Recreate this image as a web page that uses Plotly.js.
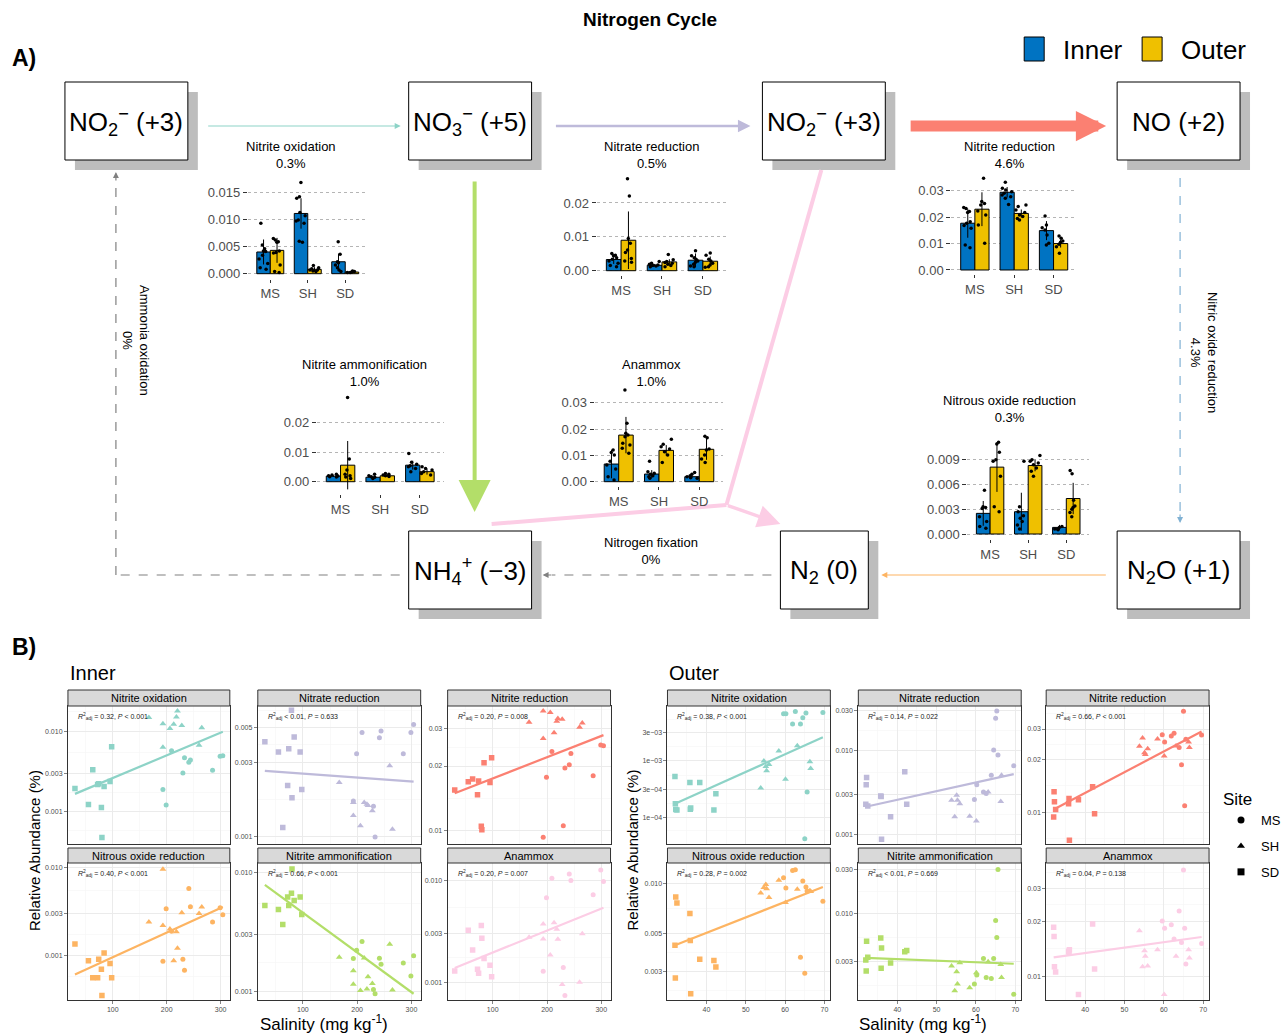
<!DOCTYPE html>
<html><head><meta charset="utf-8">
<script src="https://cdn.plot.ly/plotly-3.0.1.min.js"></script>
<style>body{margin:0;background:#fff}#chart{width:1286px;height:1034px}</style>
</head><body><div id="chart"></div>
<script>
// ---------------- DATA ----------------
const sites = ["MS", "SH", "SD"];

// Panel A bar charts (relative abundance, %)
const nitOxInMean = [0.0040, 0.0111, 0.0022];
const nitOxOutMean = [0.0043, 0.0008, 0.0003];
const nitOxInSD = [0.0023, 0.0028, 0.0015];
const nitOxOutSD = [0.0023, 0.0004, 0.0001];
const nitOxInPts = [[0.0093,0.0053,0.0046,0.0042,0.0041,0.0034,0.0027,0.0019,0.0011,0.0008],[0.0168,0.0142,0.0139,0.0113,0.0107,0.0099,0.0097,0.0093,0.0060,0.0058],[0.0059,0.0036,0.0022,0.0020,0.0016,0.0011,0.0007,0.0004]];
const nitOxOutPts = [[0.0065,0.0062,0.0059,0.0058,0.0042,0.0039,0.0038,0.0016,0.0004,0.0002],[0.0015,0.0011,0.0009,0.0007,0.0007,0.0005,0.0004],[0.0005,0.0004,0.0003,0.0002,0.0002]];

const nitRedInMean = [0.0033, 0.0016, 0.0031];
const nitRedOutMean = [0.0090, 0.0026, 0.0028];
const nitRedInSD = [0.0013, 0.0004, 0.0020];
const nitRedOutSD = [0.0085, 0.0008, 0.0014];
const nitRedInPts = [[0.0051,0.0046,0.0044,0.0038,0.0034,0.0029,0.0022,0.0015,0.0012],[0.0027,0.0022,0.0019,0.0017,0.0015,0.0014,0.0012],[0.0059,0.0044,0.0038,0.0034,0.0029,0.0025,0.0019,0.0014,0.0012]];
const nitRedOutPts = [[0.0272,0.0221,0.0095,0.0081,0.0061,0.0054,0.0036,0.0029,0.0025],[0.0048,0.0032,0.0027,0.0024,0.0022,0.0019,0.0015,0.0012],[0.0052,0.0046,0.0034,0.0029,0.0022,0.0017,0.0012,0.0010]];

const niRedInMean = [0.0177, 0.0294, 0.0149];
const niRedOutMean = [0.0230, 0.0214, 0.0100];
const niRedInSD = [0.0055, 0.0020, 0.0036];
const niRedOutSD = [0.0064, 0.0015, 0.0015];
const niRedInPts = [[0.0236,0.0233,0.0221,0.0218,0.0183,0.0177,0.0168,0.0158,0.0095,0.0084],[0.0332,0.0309,0.0303,0.0296,0.0290,0.0284,0.0277,0.0271,0.0248],[0.0204,0.0170,0.0160,0.0151,0.0132,0.0101,0.0095]];
const niRedOutPts = [[0.0347,0.0259,0.0252,0.0246,0.0223,0.0208,0.0170,0.0101],[0.0246,0.0240,0.0227,0.0218,0.0208,0.0202,0.0195,0.0189],[0.0129,0.0120,0.0110,0.0105,0.0097,0.0088,0.0063]];

const nitAmmInMean = [0.0019, 0.0015, 0.0056];
const nitAmmOutMean = [0.0056, 0.0020, 0.0034];
const nitAmmInSD = [0.0003, 0.0003, 0.0015];
const nitAmmOutSD = [0.0082, 0.0003, 0.0010];
const nitAmmInPts = [[0.0025,0.0023,0.0020,0.0019,0.0017,0.0016],[0.0025,0.0020,0.0017,0.0015,0.0011],[0.0096,0.0066,0.0059,0.0054,0.0051,0.0045,0.0034]];
const nitAmmOutPts = [[0.0285,0.0077,0.0040,0.0025,0.0020,0.0016,0.0011],[0.0028,0.0025,0.0023,0.0020,0.0018],[0.0051,0.0045,0.0040,0.0034,0.0028,0.0023]];

const anaInMean = [0.0067, 0.0029, 0.0019];
const anaOutMean = [0.0177, 0.0119, 0.0123];
const anaInSD = [0.0054, 0.0015, 0.0006];
const anaOutSD = [0.0069, 0.0020, 0.0040];
const anaInPts = [[0.0120,0.0111,0.0101,0.0078,0.0063,0.0048,0.0019,0.0006],[0.0078,0.0038,0.0032,0.0028,0.0023,0.0019,0.0013],[0.0035,0.0028,0.0023,0.0019,0.0015,0.0013]];
const anaOutPts = [[0.0348,0.0222,0.0184,0.0177,0.0171,0.0146,0.0139,0.0127,0.0108],[0.0161,0.0142,0.0133,0.0124,0.0114,0.0101,0.0073],[0.0173,0.0167,0.0124,0.0120,0.0101,0.0086,0.0073]];

const n2oInMean = [0.0025, 0.0027, 0.0008];
const n2oOutMean = [0.0081, 0.0083, 0.0043];
const n2oInSD = [0.0015, 0.0023, 0.0003];
const n2oOutSD = [0.0030, 0.0007, 0.0019];
const n2oInPts = [[0.0053,0.0033,0.0032,0.0031,0.0021,0.0015,0.0009,0.0007],[0.0088,0.0033,0.0027,0.0022,0.0019,0.0015,0.0011,0.0006],[0.0009,0.0008,0.0006,0.0006,0.0005]];
const n2oOutPts = [[0.0111,0.0109,0.0099,0.0090,0.0088,0.0070,0.0033,0.0027],[0.0095,0.0090,0.0088,0.0086,0.0084,0.0080,0.0076,0.0070],[0.0077,0.0073,0.0041,0.0034,0.0032,0.0030,0.0026,0.0021]];

// Panel B: salinity per site
const salInSD = [30, 55, 63, 72, 74, 79, 80, 84, 95, 98];
const salInSH = [167, 193, 193, 206, 213, 218, 220, 228, 260, 265];
const salInMS = [193, 199, 209, 230, 233, 241, 244, 285, 299, 304];
const salOutSD = [32.0, 32.1, 32.2, 32.5, 35.8, 35.9, 36.0, 38.3, 41.9, 42.4];
const salOutSH = [53.8, 54.6, 55.1, 55.3, 55.9, 58.4, 60.1, 63.1, 66.3, 66.5];
const salOutMS = [59.6, 60.2, 61.9, 62.6, 63.9, 64.5, 65.0, 65.3, 65.6, 69.6];

// Inner relative abundance
const inNitOxSD = [0.00194,0.00122,0.00335,0.00218,0.00222,0.00112,0.00047,0.00205,0.00237,0.0065];
const inNitOxSH = [0.0152,0.0126,0.0064,0.0110,0.0125,0.0154,0.0183,0.0120,0.0068,0.0113];
const inNitOxMS = [0.00188,0.00120,0.00579,0.00304,0.00473,0.00414,0.00442,0.00329,0.00492,0.0050];
const inNitOxFit = [0.00166, 0.0100];
const inNitRedSD = [0.00405,0.00349,0.00114,0.00212,0.00366,0.00646,0.00177,0.00435,0.00349,0.00200];
const inNitRedSH = [0.00222,0.00136,0.00165,0.00117,0.00165,0.00161,0.00158,0.00146,0.00284,0.00111];
const inNitRedMS = [0.00169,0.00340,0.00465,0.00156,0.00099,0.00430,0.00476,0.00340,0.00465,0.00523];
const inNitRedFit = [0.00264, 0.00225];
const inNiRedSD = [0.01545,0.01686,0.01741,0.01466,0.01703,0.01044,0.01007,0.02074,0.01674,0.02188];
const inNiRedSH = [0.0321,0.0269,0.0362,0.0356,0.0286,0.0324,0.0334,0.0331,0.0304,0.0318];
const inNiRedMS = [0.00927,0.0177,0.0234,0.0105,0.0196,0.0203,0.0229,0.0180,0.0251,0.0249];
const inNiRedFit = [0.0149, 0.0279];
const inN2oSD = [0.00135,0.00087,0.00056,0.00056,0.00091,0.00070,0.00035,0.00107,0.00081,0.00056];
const inN2oSH = [0.00240,0.00219,0.00958,0.00200,0.00087,0.00187,0.00121,0.00307,0.00300,0.00356];
const inN2oMS = [0.00086,0.00340,0.00189,0.00091,0.00068,0.00578,0.00359,0.00240,0.00349,0.00291];
const inN2oFit = [0.00061, 0.00356];
const inNitAmmSD = [0.00526,0.00487,0.00364,0.00618,0.00526,0.00667,0.01066,0.00579,0.00618,0.00441];
const inNitAmmSH = [0.00193,0.00148,0.00114,0.00101,0.00190,0.00104,0.00132,0.00116,0.00248,0.00102];
const inNitAmmMS = [0.00188,0.00221,0.00262,0.00103,0.00095,0.00189,0.00168,0.00172,0.00134,0.00198];
const inNitAmmFit = [0.00783, 0.00095];
const inAnaSD = [0.00129,0.00324,0.00207,0.00134,0.00122,0.00362,0.00270,0.00171,0.00147,0.00113];
const inAnaSH = [0.00276,0.00373,0.00266,0.00185,0.00385,0.00331,0.00264,0.00095,0.00100,0.00300];
const inAnaMS = [0.00128,0.00676,0.01055,0.00139,0.00074,0.0116,0.0100,0.00723,0.0127,0.0098];
const inAnaFit = [0.00138, 0.00540];
const inFitX = [30, 304];

// Outer relative abundance
const outNitOxSD = [5.15e-4,1.72e-4,1.36e-4,1.33e-4,4.04e-4,1.38e-4,1.44e-4,4.04e-4,1.33e-4,2.58e-4];
const outNitOxSH = [3.25e-4,9.6e-4,7.7e-4,6.5e-4,8.4e-4,1.44e-3,4.62e-4,1.79e-3,9.3e-4,7.1e-4];
const outNitOxMS = [6.5e-3,6.5e-3,4.3e-3,7.1e-3,4.3e-3,5.5e-3,4.2e-5,6.7e-3,2.76e-4,6.8e-3];
const outNitOxFit = [1.72e-4, 2.51e-3];
const outNitRedSD = [2.31e-3,3.93e-3,4.8e-3,2.2e-3,2.9e-3,2.85e-3,8.9e-4,1.64e-3,5.6e-3,2.31e-3];
const outNitRedSH = [2.57e-3,1.64e-3,2.95e-3,2.57e-3,2.35e-3,1.67e-3,1.46e-3,3.24e-3,2.49e-3,5.1e-3];
const outNitRedMS = [2.63e-3,3.93e-3,3.24e-3,3.1e-3,5.1e-3,1.02e-2,2.43e-2,2.95e-2,8.9e-3,6.6e-3];
const outNitRedFit = [2.16e-3, 5.26e-3];
const outNiRedSD = [9.4e-3,1.31e-2,1.148e-2,1.037e-2,1.12e-2,1.2e-2,6.9e-3,1.18e-2,1.40e-2,9.8e-3];
const outNiRedSH = [2.39e-2,2.66e-2,2.19e-2,2.14e-2,2.31e-2,2.63e-2,2.1e-2,2.40e-2,2.53e-2,2.35e-2];
const outNiRedMS = [2.78e-2,2.53e-2,2.74e-2,2.84e-2,2.35e-2,1.87e-2,3.79e-2,1.09e-2,2.62e-2,2.77e-2];
const outNiRedFit = [1.037e-2, 2.9e-2];
const outN2oSD = [4.28e-3,2.74e-3,8.28e-3,7.63e-3,6.61e-3,4.57e-3,2.21e-3,3.54e-3,3.48e-3,3.18e-3];
const outN2oSH = [8.74e-3,9.4e-3,9.8e-3,9.27e-3,8.2e-3,1.04e-2,7.67e-3,9.18e-3,9.0e-3,8.9e-3];
const outN2oMS = [1.075e-2,9.35e-3,1.186e-2,1.2e-2,3.63e-3,1.03e-2,2.92e-3,9.47e-3,8.98e-3,7.8e-3];
const outN2oFit = [4.28e-3, 9.47e-3];
const outNitAmmSD = [3.1e-3,2.36e-3,4.96e-3,3.33e-3,5.38e-3,2.52e-3,4.21e-3,2.88e-3,3.81e-3,3.94e-3];
const outNitAmmSH = [2.67e-3,1.44e-3,2.32e-3,1.70e-3,2.9e-3,1.55e-3,2.26e-3,2.97e-3,2.78e-3,2.0e-3];
const outNitAmmMS = [1.70e-3,2.14e-3,3.23e-3,2.0e-3,1.95e-3,3.23e-3,8.34e-3,5.47e-3,3.0e-2,1.32e-3];
const outNitAmmFit = [3.28e-3, 2.83e-3];
const outAnaSD = [1.85e-2,1.65e-2,1.13e-2,1.06e-2,1.37e-2,1.35e-2,1.40e-2,8.0e-3,1.93e-2,1.10e-2];
const outAnaSH = [1.77e-2,1.13e-2,1.38e-2,1.29e-2,1.14e-2,1.4e-2,8.0e-3,1.29e-2,1.40e-2,1.26e-2];
const outAnaMS = [2.0e-2,1.83e-2,1.91e-2,1.6e-2,2.27e-2,1.53e-2,3.79e-2,1.83e-2,1.17e-2,1.51e-2];
const outAnaFit = [1.27e-2, 1.64e-2];
const outFitX = [32, 69.6];

// tick labels
const tk0103 = [0.001, 0.003, 0.010], tl0103 = ["0.001", "0.003", "0.010"];
const tk0105 = [0.001, 0.003, 0.005], tl0105 = ["0.001", "0.003", "0.005"];
const tk123 = [0.01, 0.02, 0.03], tl123 = ["0.01", "0.02", "0.03"];
const tkE = [1e-4, 3e-4, 1e-3, 3e-3], tlE = ["1e\u221204", "3e\u221204", "1e\u221203", "3e\u221203"];
const tk0130 = [0.001, 0.003, 0.010, 0.030], tl0130 = ["0.001", "0.003", "0.010", "0.030"];
const tk3510 = [0.003, 0.005, 0.010], tl3510 = ["0.003", "0.005", "0.010"];
const tk3030 = [0.003, 0.010, 0.030], tl3030 = ["0.003", "0.010", "0.030"];
const innerXTicks = [100, 200, 300], outerXTicks = [40, 50, 60, 70];

// ---------------- LAYOUT HELPERS ----------------
const W = 1286, H = 1034;
const X = p => p / W, Y = p => 1 - p / H;
const FONT = "Liberation Sans, Arial, Helvetica, sans-serif";
const BLUE = "#0073C2", YEL = "#EFC000";
const traces = [], shapes = [], ann = [];
const layout = {
  width: W, height: H, margin: {l: 0, r: 0, t: 0, b: 0, pad: 0},
  paper_bgcolor: "#ffffff", plot_bgcolor: "rgba(0,0,0,0)",
  font: {family: FONT, color: "#000"},
  barmode: "group", bargap: 0.28, bargroupgap: 0,
  boxmode: "group", boxgap: 0.28, boxgroupgap: 0,
  showlegend: true, hovermode: false
};
let axN = 0;
function newAxes() { axN++; const s = axN === 1 ? "" : String(axN); return {xa: "x" + s, ya: "y" + s, xk: "xaxis" + s, yk: "yaxis" + s}; }
function txt(x, y, text, size, opts) { ann.push(Object.assign({xref: "paper", yref: "paper", x: X(x), y: Y(y), text: text, showarrow: false, font: {size: size, family: FONT, color: "#000"}, xanchor: "center", yanchor: "middle"}, opts || {})); }
function rect(x0, y0, x1, y1, fill, line, lw, layer) { shapes.push({type: "rect", xref: "paper", yref: "paper", x0: X(x0), x1: X(x1), y0: Y(y1), y1: Y(y0), fillcolor: fill, line: {color: line, width: lw}, layer: layer || "above"}); }
function seg(x0, y0, x1, y1, color, w, dash) { shapes.push({type: "line", xref: "paper", yref: "paper", x0: X(x0), x1: X(x1), y0: Y(y0), y1: Y(y1), line: {color: color, width: w, dash: dash || "solid"}, layer: "below"}); }
function arrow(tx, ty, fx, fy, color, w, size, head) { ann.push({xref: "paper", yref: "paper", x: X(tx), y: Y(ty), ax: fx - tx, ay: fy - ty, text: "", showarrow: true, arrowcolor: color, arrowwidth: w, arrowsize: size, arrowhead: head === undefined ? 2 : head, standoff: 0, startstandoff: 0}); }

// ---------------- PANEL A: diagram ----------------
txt(651, 20, "<b>Nitrogen Cycle</b>", 19);
txt(10, 58, "<b>A)</b>", 23, {xanchor: "left"});
rect(1025, 37, 1045, 61, BLUE, "#000", 1);
txt(1062, 50, "Inner", 26, {xanchor: "left"});
rect(1143, 37, 1163, 61, YEL, "#000", 1);
txt(1180, 50, "Outer", 26, {xanchor: "left"});

const boxes = [
  [65, 82, 188, 160, "NO<sub>2</sub><sup>\u2212</sup> (+3)"],
  [409, 82, 532, 160, "NO<sub>3</sub><sup>\u2212</sup> (+5)"],
  [763, 82, 886, 160, "NO<sub>2</sub><sup>\u2212</sup> (+3)"],
  [1118, 82, 1241, 160, "NO (+2)"],
  [409, 531, 532, 609, "NH<sub>4</sub><sup>+</sup> (\u22123)"],
  [781, 531, 869, 609, "N<sub>2</sub> (0)"],
  [1118, 531, 1241, 609, "N<sub>2</sub>O (+1)"]
];
boxes.forEach(b => {
  rect(b[0] + 10, b[1] + 10, b[2] + 10, b[3] + 10, "#bdbdbd", "rgba(0,0,0,0)", 0, "below");
  rect(b[0], b[1], b[2], b[3], "#ffffff", "#000", 1, "below");
  txt((b[0] + b[2]) / 2, (b[1] + b[3]) / 2 + 1, b[4], 26);
});

// arrows
arrow(401, 126, 207, 126, "#8dd3c7", 1.2, 1, 2);
arrow(751, 126, 555, 126, "#bebada", 2.5, 1, 2);
arrow(1107, 126, 910, 126, "#fb8072", 11, 0.55, 2);
arrow(475, 512, 475, 180, "#b3de69", 4, 1.6, 2);
seg(822, 170, 727, 505, "#fccde5", 4);
seg(727, 505, 492, 524, "#fccde5", 4);
arrow(781, 524, 727, 505, "#fccde5", 3.5, 1.3, 2);
seg(1181, 178, 1181, 514, "#80b1d3", 1.2, "dash");
arrow(1181, 523, 1181, 513, "#80b1d3", 1.2, 1, 2);
arrow(882, 575, 1108, 575, "#fdb462", 1.2, 1, 2);
seg(772, 575, 552, 575, "#808080", 1.2, "dash");
arrow(543, 575, 553, 575, "#808080", 1.2, 1, 2);
seg(400, 575, 116, 575, "#808080", 1.2, "dash");
seg(116, 575, 116, 181, "#808080", 1.2, "dash");
arrow(116, 172, 116, 182, "#808080", 1.2, 1, 2);

txt(136, 341, "Ammonia oxidation<br>0%", 13, {textangle: 90});
txt(1205, 352, "Nitric oxide reduction<br>4.3%", 13, {textangle: 90});
txt(652, 551, "Nitrogen fixation<br>0%", 13);

// bar charts
const barSets = [
  {title: "Nitrite oxidation", pct: "0.3%", im: nitOxInMean, om: nitOxOutMean, is: nitOxInSD, os: nitOxOutSD, ip: nitOxInPts, op: nitOxOutPts},
  {title: "Nitrate reduction", pct: "0.5%", im: nitRedInMean, om: nitRedOutMean, is: nitRedInSD, os: nitRedOutSD, ip: nitRedInPts, op: nitRedOutPts},
  {title: "Nitrite reduction", pct: "4.6%", im: niRedInMean, om: niRedOutMean, is: niRedInSD, os: niRedOutSD, ip: niRedInPts, op: niRedOutPts},
  {title: "Nitrite ammonification", pct: "1.0%", im: nitAmmInMean, om: nitAmmOutMean, is: nitAmmInSD, os: nitAmmOutSD, ip: nitAmmInPts, op: nitAmmOutPts},
  {title: "Anammox", pct: "1.0%", im: anaInMean, om: anaOutMean, is: anaInSD, os: anaOutSD, ip: anaInPts, op: anaOutPts},
  {title: "Nitrous oxide reduction", pct: "0.3%", im: n2oInMean, om: n2oOutMean, is: n2oInSD, os: n2oOutSD, ip: n2oInPts, op: n2oOutPts}
];
const barGeom = [
  {xl: 248, xr: 368, y0: 273.7, tp: 192.3, tv: 0.015, ymin: -0.0009, ymax: 0.0177, dt: 0.005, fmt: ".3f", tx: 291, ty: 155},
  {xl: 597, xr: 728, y0: 270.7, tp: 203, tv: 0.02, ymin: -0.0014, ymax: 0.0286, dt: 0.01, fmt: ".2f", tx: 652, ty: 155},
  {xl: 952, xr: 1078, y0: 270, tp: 190.7, tv: 0.03, ymin: -0.0017, ymax: 0.0365, dt: 0.01, fmt: ".2f", tx: 1010, ty: 155},
  {xl: 317, xr: 444, y0: 481.7, tp: 422.7, tv: 0.02, ymin: -0.0042, ymax: 0.0297, dt: 0.01, fmt: ".2f", tx: 365, ty: 373},
  {xl: 595, xr: 724, y0: 481.7, tp: 402.7, tv: 0.03, ymin: -0.0017, ymax: 0.0366, dt: 0.01, fmt: ".2f", tx: 652, ty: 373},
  {xl: 968, xr: 1090, y0: 534, tp: 459.7, tv: 0.009, ymin: -0.0006, ymax: 0.0117, dt: 0.003, fmt: ".3f", tx: 1010, ty: 409}
];
function flatX(pts) { const o = []; pts.forEach((p, j) => p.forEach(() => o.push(sites[j]))); return o; }
function flatY(pts) { return [].concat.apply([], pts); }
barSets.forEach((b, i) => {
  const g = barGeom[i], a = newAxes();
  const k = (g.y0 - g.tp) / g.tv;
  const top = g.y0 - g.ymax * k, bot = g.y0 - g.ymin * k;
  layout[a.xk] = {domain: [X(g.xl), X(g.xr)], type: "category", categoryorder: "array", categoryarray: sites, range: [-0.6, 2.6], anchor: a.ya,
    ticks: "outside", ticklen: 3, tickcolor: "#333", tickfont: {size: 13, color: "#4d4d4d"}, showgrid: false, zeroline: false, showline: false, fixedrange: true};
  layout[a.yk] = {domain: [Y(bot), Y(top)], range: [g.ymin, g.ymax], anchor: a.xa, tick0: 0, dtick: g.dt, tickformat: g.fmt,
    ticks: "outside", ticklen: 4, tickcolor: "#333", tickfont: {size: 13, color: "#4d4d4d"}, showgrid: true, gridcolor: "#b5b5b5", griddash: "dot", gridwidth: 1, zeroline: false, showline: false, fixedrange: true};
  [["in", b.im, b.is, b.ip, BLUE], ["out", b.om, b.os, b.op, YEL]].forEach(s => {
    traces.push({type: "bar", x: sites, y: s[1], xaxis: a.xa, yaxis: a.ya, offsetgroup: s[0], alignmentgroup: "bar" + i,
      marker: {color: s[4], line: {color: "#000", width: 1}}, error_y: {type: "data", array: s[2], visible: true, color: "#000", thickness: 1, width: 0},
      showlegend: false, hoverinfo: "skip"});
  });
  [["in", b.ip], ["out", b.op]].forEach(s => {
    traces.push({type: "box", x: flatX(s[1]), y: flatY(s[1]), xaxis: a.xa, yaxis: a.ya, offsetgroup: s[0], alignmentgroup: "box" + i,
      boxpoints: "all", jitter: 0.8, pointpos: 0, fillcolor: "rgba(0,0,0,0)", line: {color: "rgba(0,0,0,0)", width: 0}, whiskerwidth: 0,
      marker: {color: "#000", size: 3.5}, showlegend: false, hoverinfo: "skip"});
  });
  txt(g.tx, g.ty, b.title + "<br>" + b.pct, 13);
});

// ---------------- PANEL B: scatter ----------------
txt(10, 647, "<b>B)</b>", 23, {xanchor: "left"});
txt(68, 673, "Inner", 20, {xanchor: "left"});
txt(668, 673, "Outer", 20, {xanchor: "left"});
txt(34, 850, "Relative Abundance (%)", 15, {textangle: -90});
txt(632, 850, "Relative Abundance (%)", 15, {textangle: -90});
txt(324, 1023, "Salinity (mg kg<sup>-1</sup>)", 17);
txt(924, 1023, "Salinity (mg kg<sup>-1</sup>)", 17);

const grpDef = [
  {sal: [salInSD, salInSH, salInMS], fx: inFitX, xr: [17, 317], xt: innerXTicks, xm: [50, 150, 250], cols: [[68, 230], [258, 421], [448, 611]]},
  {sal: [salOutSD, salOutSH, salOutMS], fx: outFitX, xr: [30.1, 71.5], xt: outerXTicks, xm: [35, 45, 55, 65], cols: [[668, 831], [859, 1022], [1047, 1210]]}
];
const rowPx = [[706, 844], [863, 1000]];
const stripPx = [[690, 706], [848, 863]];
const P = "<i>P</i>";
const scat = [
  [0, 0, 0, "Nitrite oxidation", "#8dd3c7", inNitOxSD, inNitOxSH, inNitOxMS, inNitOxFit, tk0103, tl0103, [-3.41, -1.675], "= 0.32, " + P + " &lt; 0.001"],
  [0, 0, 1, "Nitrate reduction", "#bebada", inNitRedSD, inNitRedSH, inNitRedMS, inNitRedFit, tk0105, tl0105, [-3.049, -2.162], "&lt; 0.01, " + P + " = 0.633"],
  [0, 0, 2, "Nitrite reduction", "#fb8072", inNiRedSD, inNiRedSH, inNiRedMS, inNiRedFit, tk123, tl123, [-2.064, -1.418], "= 0.20, " + P + " = 0.008"],
  [0, 1, 0, "Nitrous oxide reduction", "#fdb462", inN2oSD, inN2oSH, inN2oMS, inN2oFit, tk0103, tl0103, [-3.506, -1.947], "= 0.40, " + P + " &lt; 0.001"],
  [0, 1, 1, "Nitrite ammonification", "#b3de69", inNitAmmSD, inNitAmmSH, inNitAmmMS, inNitAmmFit, tk0103, tl0103, [-3.075, -1.922], "= 0.66, " + P + " &lt; 0.001"],
  [0, 1, 2, "Anammox", "#fccde5", inAnaSD, inAnaSH, inAnaMS, inAnaFit, tk0103, tl0103, [-3.176, -1.827], "= 0.20, " + P + " = 0.007"],
  [1, 0, 0, "Nitrite oxidation", "#8dd3c7", outNitOxSD, outNitOxSH, outNitOxMS, outNitOxFit, tkE, tlE, [-4.47, -2.053], "= 0.38, " + P + " &lt; 0.001"],
  [1, 0, 1, "Nitrate reduction", "#bebada", outNitRedSD, outNitRedSH, outNitRedMS, outNitRedFit, tk0130, tl0130, [-3.108, -1.47], "= 0.14, " + P + " = 0.022"],
  [1, 0, 2, "Nitrite reduction", "#fb8072", outNiRedSD, outNiRedSH, outNiRedMS, outNiRedFit, tk123, tl123, [-2.182, -1.391], "= 0.66, " + P + " &lt; 0.001"],
  [1, 1, 0, "Nitrous oxide reduction", "#fdb462", outN2oSD, outN2oSH, outN2oMS, outN2oFit, tk3510, tl3510, [-2.693, -1.881], "= 0.28, " + P + " = 0.002"],
  [1, 1, 1, "Nitrite ammonification", "#b3de69", outNitAmmSD, outNitAmmSH, outNitAmmMS, outNitAmmFit, tk3030, tl3030, [-2.943, -1.452], "&lt; 0.01, " + P + " = 0.669"],
  [1, 1, 2, "Anammox", "#fccde5", outAnaSD, outAnaSH, outAnaMS, outAnaFit, tk123, tl123, [-2.127, -1.384], "= 0.04, " + P + " = 0.138"]
];
function minorLog(t) {
  const m = [];
  for (let i = 0; i < t.length - 1; i++) m.push(Math.sqrt(t[i] * t[i + 1]));
  m.unshift(t[0] / Math.sqrt(t[1] / t[0]));
  m.push(t[t.length - 1] * Math.sqrt(t[t.length - 1] / t[t.length - 2]));
  return m;
}
const symbols = ["square", "triangle-up", "circle"], sizes = [5.5, 6, 5];
let firstScatAxes = null;
scat.forEach(p => {
  const gd = grpDef[p[0]], row = p[1], col = p[2], a = newAxes();
  if (!firstScatAxes) firstScatAxes = a;
  const xs = gd.cols[col], ys = rowPx[row];
  layout[a.xk] = {domain: [X(xs[0]), X(xs[1])], range: gd.xr, anchor: a.ya, tickvals: gd.xt, showticklabels: row === 1,
    ticks: row === 1 ? "outside" : "", ticklen: 3, tickwidth: 0.6, tickcolor: "#333", tickfont: {size: 7, color: "#4d4d4d"},
    showgrid: true, gridcolor: "#ebebeb", gridwidth: 1, minor: {tickvals: gd.xm, showgrid: true, gridcolor: "#f5f5f5", gridwidth: 0.6, ticks: ""},
    zeroline: false, showline: true, mirror: true, linecolor: "#333", linewidth: 1, fixedrange: true};
  layout[a.yk] = {domain: [Y(ys[1]), Y(ys[0])], type: "log", range: p[11], anchor: a.xa, tickvals: p[9], ticktext: p[10],
    ticks: "outside", ticklen: 3, tickwidth: 0.6, tickcolor: "#333", tickfont: {size: 7, color: "#4d4d4d"},
    showgrid: true, gridcolor: "#ebebeb", gridwidth: 1, minor: {tickvals: minorLog(p[9]), showgrid: true, gridcolor: "#f5f5f5", gridwidth: 0.6, ticks: ""},
    zeroline: false, showline: true, mirror: true, linecolor: "#333", linewidth: 1, fixedrange: true};
  [p[5], p[6], p[7]].forEach((yv, j) => {
    traces.push({type: "scatter", mode: "markers", x: gd.sal[j], y: yv, xaxis: a.xa, yaxis: a.ya,
      marker: {color: p[4], symbol: symbols[j], size: sizes[j], line: {width: 0}}, showlegend: false, hoverinfo: "skip", cliponaxis: true});
  });
  traces.push({type: "scatter", mode: "lines", x: gd.fx, y: p[8], xaxis: a.xa, yaxis: a.ya, line: {color: p[4], width: 2.2}, showlegend: false, hoverinfo: "skip"});
  const st = stripPx[row];
  rect(xs[0], st[0], xs[1], st[1], "#d9d9d9", "#333", 1);
  txt((xs[0] + xs[1]) / 2, (st[0] + st[1]) / 2, p[3], 11);
  txt(xs[0] + 8, ys[0] + 10, "<i>R</i><sup>2</sup><sub>adj</sub> " + p[12], 7, {xanchor: "left", font: {size: 7, family: FONT, color: "#222"}});
});

// Site legend
["MS", "SH", "SD"].forEach((nm, j) => {
  traces.push({type: "scatter", mode: "markers", x: [null], y: [null], xaxis: firstScatAxes.xa, yaxis: firstScatAxes.ya, name: nm,
    legendgroup: nm, marker: {color: "#000", symbol: ["circle", "triangle-up", "square"][j], size: 7}, showlegend: true, hoverinfo: "skip"});
});
layout.legend = {x: X(1222), y: Y(783), xanchor: "left", yanchor: "top", bgcolor: "rgba(0,0,0,0)",
  title: {text: "Site", font: {size: 17, family: FONT}}, font: {size: 13, family: FONT}, tracegroupgap: 6, itemwidth: 30};

layout.shapes = shapes;
layout.annotations = ann;
Plotly.newPlot("chart", traces, layout, {staticPlot: true, displayModeBar: false});
</script>
</body></html>
